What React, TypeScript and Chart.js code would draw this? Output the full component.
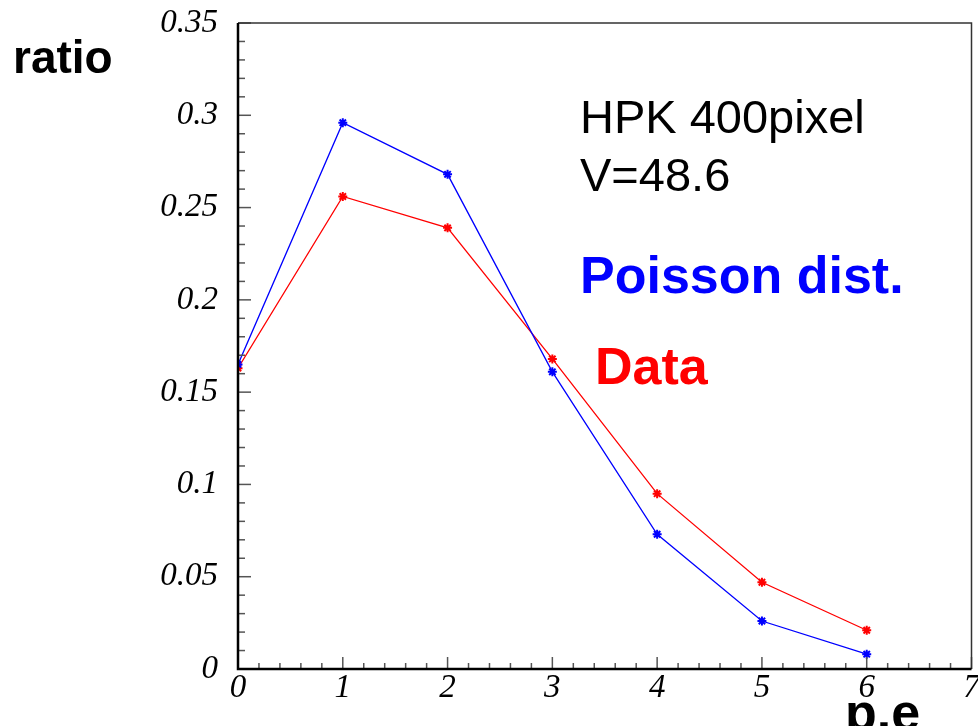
import React, { useEffect, useRef } from "react";
import { Chart, registerables } from "chart.js";

Chart.register(...registerables);

const xValues = [0, 1, 2, 3, 4, 5, 6];
const poissonValues = [0.165, 0.296, 0.268, 0.161, 0.073, 0.026, 0.008];
const dataValues = [0.163, 0.256, 0.239, 0.168, 0.095, 0.047, 0.021];
const yTickLabels = ["0", "0.05", "0.1", "0.15", "0.2", "0.25", "0.3", "0.35"];
const xTickLabels = ["0", "1", "2", "3", "4", "5", "6", "7"];
const seriesNames = ["Poisson dist.", "Data"];
const infoLines = ["HPK 400pixel", "V=48.6"];
const yTitle = "ratio";
const xTitle = "p.e";

const decorPlugin = {
  id: "decor",
  afterDraw(chart: any) {
    const { ctx, chartArea, scales } = chart;
    const { left, right, top, bottom } = chartArea;
    const x = scales.x;
    const y = scales.y;
    ctx.save();
    const line = (x1: number, y1: number, x2: number, y2: number) => {
      ctx.beginPath();
      ctx.moveTo(x1, y1);
      ctx.lineTo(x2, y2);
      ctx.stroke();
    };
    // ticks (inward)
    ctx.strokeStyle = "#555";
    ctx.lineWidth = 1.5;
    for (let i = 0; i <= 35; i++) {
      const py = y.getPixelForValue(i / 100);
      const len = i % 5 === 0 ? 13 : 7;
      line(left, py, left + len, py);
    }
    for (let i = 0; i <= 35; i++) {
      const px = x.getPixelForValue(i * 0.2);
      const len = i % 5 === 0 ? 12 : 6;
      line(px, bottom, px, bottom - len);
    }
    // frame top/right
    ctx.strokeStyle = "#333";
    ctx.lineWidth = 1.5;
    ctx.beginPath();
    ctx.moveTo(left, top);
    ctx.lineTo(right, top);
    ctx.lineTo(right, bottom);
    ctx.stroke();
    // axes
    ctx.strokeStyle = "#000";
    ctx.lineWidth = 2.5;
    ctx.beginPath();
    ctx.moveTo(left, top);
    ctx.lineTo(left, bottom);
    ctx.lineTo(right, bottom);
    ctx.stroke();

    // texts
    ctx.textAlign = "left";
    ctx.textBaseline = "alphabetic";
    ctx.fillStyle = "#000";
    ctx.font = '47px "Liberation Sans", Arial, sans-serif';
    ctx.fillText(infoLines[0], 580, 133);
    ctx.fillText(infoLines[1], 580, 191);
    ctx.font = 'bold 52px "Liberation Sans", Arial, sans-serif';
    ctx.fillStyle = "#0000ff";
    ctx.fillText(seriesNames[0], 580, 293);
    ctx.fillStyle = "#ff0000";
    ctx.fillText(seriesNames[1], 595, 384);
    ctx.fillStyle = "#000";
    ctx.font = 'bold 46px "Liberation Sans", Arial, sans-serif';
    ctx.fillText(yTitle, 13, 73);
    ctx.font = 'bold 52px "Liberation Sans", Arial, sans-serif';
    ctx.fillText(xTitle, 845, 730);
    ctx.restore();
  },
};

export default function App() {
  const canvasRef = useRef<HTMLCanvasElement | null>(null);

  useEffect(() => {
    const canvas = canvasRef.current;
    if (!canvas) return;
    const tickFont = {
      family: '"Liberation Serif", "Times New Roman", serif',
      style: "italic" as const,
      size: 33,
    };
    const chart = new Chart(canvas, {
      type: "line",
      data: {
        datasets: [
          {
            label: seriesNames[0],
            data: xValues.map((v, i) => ({ x: v, y: poissonValues[i] })),
            borderColor: "#0000ff",
            backgroundColor: "#0000ff",
            borderWidth: 1.3,
            pointStyle: "star",
            pointRadius: 4.5,
            pointBorderWidth: 2,
            tension: 0,
          },
          {
            label: seriesNames[1],
            data: xValues.map((v, i) => ({ x: v, y: dataValues[i] })),
            borderColor: "#ff0000",
            backgroundColor: "#ff0000",
            borderWidth: 1.3,
            pointStyle: "star",
            pointRadius: 4.5,
            pointBorderWidth: 2,
            tension: 0,
          },
        ],
      },
      options: {
        responsive: false,
        animation: false,
        devicePixelRatio: 1,
        layout: { padding: { top: 23, right: 6, left: 0, bottom: 0 } },
        plugins: {
          legend: { display: false },
          tooltip: { enabled: false },
        },
        scales: {
          x: {
            type: "linear",
            min: 0,
            max: 7,
            grid: { display: false, drawTicks: false },
            border: { display: false },
            ticks: {
              stepSize: 1,
              color: "#000",
              font: tickFont,
              padding: 0,
              maxRotation: 0,
              autoSkip: false,
              callback: (_v: any, i: number) => xTickLabels[i],
            },
            afterFit: (s: any) => {
              s.height = 57;
              s.paddingLeft = 0;
              s.paddingRight = 0;
            },
          },
          y: {
            type: "linear",
            min: 0,
            max: 0.35,
            grid: { display: false, drawTicks: false },
            border: { display: false },
            ticks: {
              stepSize: 0.05,
              color: "#000",
              font: tickFont,
              padding: 20,
              autoSkip: false,
              callback: (_v: any, i: number) => yTickLabels[i],
            },
            afterFit: (s: any) => {
              s.width = 238;
              s.paddingTop = 0;
              s.paddingBottom = 0;
            },
          },
        },
      },
      plugins: [decorPlugin],
    });
    return () => chart.destroy();
  }, []);

  return (
    <div
      style={{
        position: "fixed",
        left: 0,
        top: 0,
        width: 978,
        height: 726,
        background: "#fff",
        overflow: "hidden",
      }}
    >
      <canvas ref={canvasRef} width={978} height={726} style={{ display: "block" }} />
    </div>
  );
}
